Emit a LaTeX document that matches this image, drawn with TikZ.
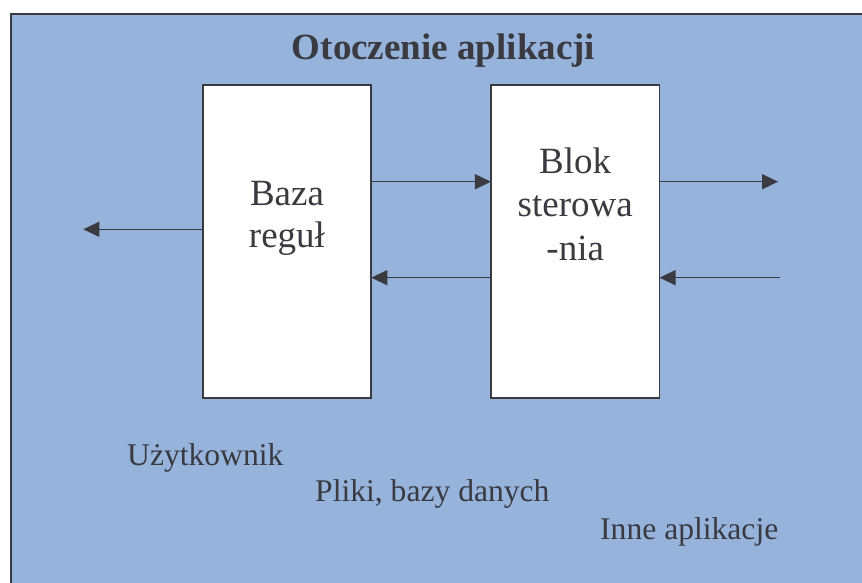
\documentclass[tikz,border=0pt]{standalone}
\usepackage{fontspec}
\setmainfont{Liberation Serif}
\usetikzlibrary{arrows.meta}
\definecolor{bgblue}{RGB}{149,179,219}
\definecolor{ink}{RGB}{58,58,64}
\tikzset{
  blockbox/.style={draw=ink, line width=1.8pt, fill=white, minimum width=168.6pt, minimum height=312.7pt, inner sep=0pt, outer sep=0pt},
  boxtext/.style={text=ink, font=\fontsize{37}{43}\selectfont, anchor=base, inner sep=0pt},
  envtext/.style={text=ink, font=\fontsize{31.6}{36}\selectfont, anchor=base west, inner sep=0pt},
  titletext/.style={text=ink, font=\fontsize{37}{43}\selectfont\bfseries, anchor=base, inner sep=0pt},
  arr/.style={draw=ink, line width=1.5pt, -{Triangle[length=16pt,width=15pt]}}
}
\begin{document}
\begin{tikzpicture}[x=1pt,y=-1pt]
\useasboundingbox (0,0) rectangle (862,583);
\clip (0,0) rectangle (862,583);
\fill[white] (0,0) rectangle (862,583);
\draw[draw=ink, line width=2pt, fill=bgblue] (11,14) rectangle (900,640);
\node[titletext] (title) at (443.5,59.3) {Otoczenie aplikacji};
\node[blockbox] (baza) at (287,241.65) {};
\node[blockbox] (blok) at (575.2,241.65) {};
\node[boxtext] (baza1) at (287,205) {Baza};
\node[boxtext] (baza2) at (287,247) {regu\l{}};
\node[boxtext] (blok1) at (575.2,173) {Blok};
\node[boxtext] (blok2) at (575.2,216.7) {sterowa};
\node[boxtext] (blok3) at (575.2,260) {-nia};
\coordinate (tipL) at (83.3,229.3);
\coordinate (topY) at (0,181.7);
\coordinate (botY) at (0,277.7);
\coordinate (outR) at (778,181.7);
\coordinate (inR) at (780,277.7);
\draw[arr] (baza.east |- topY) -- (blok.west |- topY);
\draw[arr] (blok.west |- botY) -- (baza.east |- botY);
\draw[arr] (baza.west |- tipL) -- (tipL);
\draw[arr] (blok.east |- outR) -- (outR);
\draw[arr] (inR) -- (blok.east |- inR);
\node[envtext] (user) at (127,465) {Użytkownik};
\node[envtext] (files) at (315,501.7) {Pliki, bazy danych};
\node[envtext] (apps) at (600,539.3) {Inne aplikacje};
\end{tikzpicture}
\end{document}
